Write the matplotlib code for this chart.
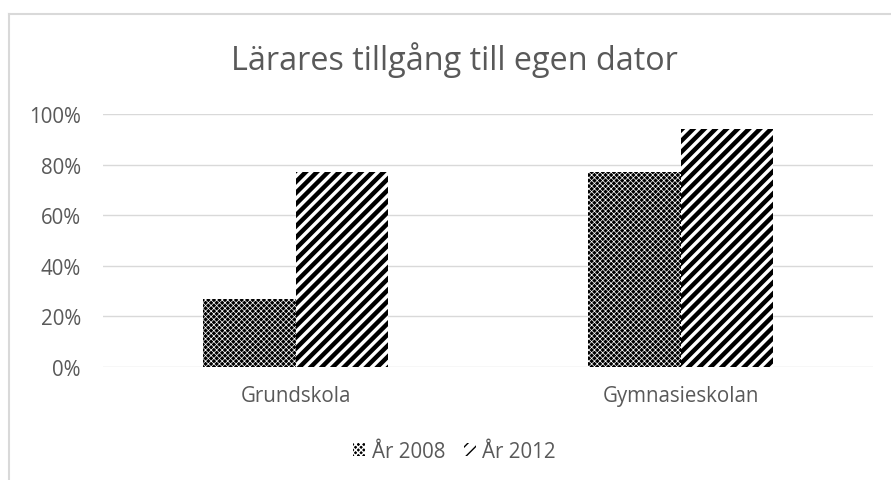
import numpy as np
import matplotlib
matplotlib.use("Agg")
import matplotlib.pyplot as plt
from matplotlib.lines import Line2D
from matplotlib.patches import Patch

categories = ["Grundskola", "Gymnasieskolan"]
series_names = ["År 2008", "År 2012"]
values_2008 = [0.27, 0.77]
values_2012 = [0.77, 0.94]
ytick_labels = ["0%", "20%", "40%", "60%", "80%", "100%"]

plt.rcParams["font.family"] = ["Open Sans", "DejaVu Sans"]
text_col = "#595959"

fig = plt.figure(figsize=(8.91, 4.81), dpi=100)
ax = fig.add_axes([103 / 891, 113 / 481, 770 / 891, 253 / 481])

x = np.arange(len(categories))
w = 0.24
b1 = ax.bar(x - w / 2, values_2008, w, facecolor="black", edgecolor="white",
            hatch="xxxxxx", linewidth=0, zorder=3)
b2 = ax.bar(x + w / 2, values_2012, w, facecolor="white", edgecolor="black",
            hatch="///", linewidth=0, zorder=3)
for p in b1:
    p.set_hatch_linewidth(0.5)
for p in b2:
    p.set_hatch_linewidth(3.2)

ax.set_xlim(-0.5, 1.5)
ax.set_ylim(0, 1.0)
ax.set_yticks(np.linspace(0, 1, 6))
ax.set_yticklabels(ytick_labels)
ax.set_xticks(x)
ax.set_xticklabels(categories)
ax.tick_params(length=0, labelsize=14.8, colors=text_col)
ax.tick_params(axis="x", pad=13)
ax.tick_params(axis="y", pad=16)
ax.grid(axis="y", color="#d9d9d9", linewidth=1, zorder=0)
for s in ax.spines.values():
    s.set_visible(False)

fig.text(0.51, 0.875, "Lärares tillgång till egen dator", ha="center",
         va="center", fontsize=23.3, color=text_col)

h1 = Patch(facecolor="black", edgecolor="white", hatch="xxxxxx", linewidth=0)
h2 = Patch(facecolor="white", edgecolor="black", hatch="///", linewidth=0)
h1.set_hatch_linewidth(0.5)
h2.set_hatch_linewidth(3.2)
fig.legend([h1, h2], series_names, loc="center", bbox_to_anchor=(0.51, 0.06),
           ncol=2, frameon=False, fontsize=14.8, labelcolor=text_col,
           handlelength=0.6, handleheight=0.6, handletextpad=0.3, columnspacing=0.9)

# chart border (only top and left visible)
fig.add_artist(Line2D([9 / 891, 9 / 891], [0, 1 - 15 / 481], color="#d9d9d9", lw=1.5))
fig.add_artist(Line2D([9 / 891, 1], [1 - 15 / 481, 1 - 15 / 481], color="#d9d9d9", lw=1.5))

fig.savefig("out.png", dpi=100)
